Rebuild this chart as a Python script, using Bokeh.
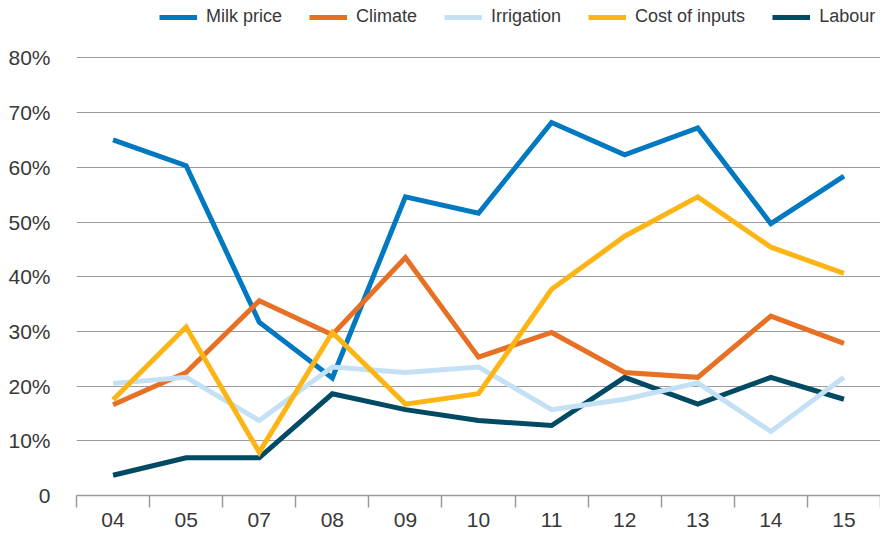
from bokeh.plotting import figure
from bokeh.models import FixedTicker, Legend, LegendItem, Range1d
from bokeh.embed import file_html
from bokeh.resources import INLINE

years = ["04", "05", "07", "08", "09", "10", "11", "12", "13", "14", "15"]
milk_price = [65, 60.3, 31.7, 21.5, 54.6, 51.6, 68.2, 62.3, 67.2, 49.7, 58.4]
climate = [16.6, 22.5, 35.6, 29.4, 43.5, 25.3, 29.8, 22.5, 21.6, 32.8, 27.8]
irrigation = [20.5, 21.6, 13.7, 23.5, 22.5, 23.5, 15.7, 17.6, 20.6, 11.7, 21.6]
cost_of_inputs = [17.5, 30.8, 7.9, 29.8, 16.7, 18.6, 37.7, 47.4, 54.6, 45.4, 40.6]
labour = [3.7, 6.9, 6.9, 18.6, 15.7, 13.7, 12.8, 21.6, 16.7, 21.6, 17.6]
y_ticks = [0, 10, 20, 30, 40, 50, 60, 70, 80]

series_names = ["Milk price", "Climate", "Irrigation", "Cost of inputs", "Labour"]
series_values = [milk_price, climate, irrigation, cost_of_inputs, labour]
colors = ["#0079C1", "#E87024", "#C3E0F5", "#FDB515", "#004A63"]
draw_order = [4, 0, 1, 2, 3]

FONT = "Liberation Sans"
TXT = "#383838"

xs = [i + 0.5 for i in range(len(years))]

# frame spans full height above the axis; top of y range leaves room for the legend
p = figure(width=880, height=529, output_backend="svg", toolbar_location=None,
           x_range=Range1d(0, len(years)), y_range=Range1d(0, 90.5),
           min_border_left=76, min_border_right=0, min_border_top=0, min_border_bottom=33)
p.outline_line_color = None
p.background_fill_color = "white"
p.border_fill_color = "white"

renderers = {}
for idx in draw_order:
    r = p.line(xs, series_values[idx], line_color=colors[idx], line_width=5,
               line_join="miter", line_cap="butt")
    renderers[idx] = r

p.xgrid.grid_line_color = None
p.ygrid.grid_line_color = "#9a9a9a"
p.ygrid.grid_line_width = 1.2
p.ygrid.ticker = FixedTicker(ticks=y_ticks)

xa = p.xaxis[0]
xa.ticker = FixedTicker(ticks=xs, minor_ticks=list(range(len(years) + 1)))
xa.major_label_overrides = {x: y for x, y in zip(xs, years)}
xa.major_tick_out = 0
xa.major_tick_in = 0
xa.minor_tick_out = 12
xa.minor_tick_in = 0
xa.minor_tick_line_color = "#9a9a9a"
xa.minor_tick_line_width = 1.5
xa.axis_line_color = "#9a9a9a"
xa.axis_line_width = 1.5
xa.major_label_standoff = 5
xa.major_label_text_font = FONT
xa.major_label_text_font_size = "21px"
xa.major_label_text_color = TXT

ya = p.yaxis[0]
ya.ticker = FixedTicker(ticks=y_ticks)
ya.major_label_overrides = {t: ("0" if t == 0 else f"{t}%") for t in y_ticks}
ya.axis_line_color = None
ya.major_tick_out = 0
ya.major_tick_in = 0
ya.major_tick_line_color = None
ya.minor_tick_line_color = None
ya.major_label_standoff = 26
ya.major_label_text_font = FONT
ya.major_label_text_font_size = "21px"
ya.major_label_text_color = TXT

items = [LegendItem(label=series_names[i], renderers=[renderers[i]]) for i in range(len(series_names))]
legend = Legend(items=items, orientation="horizontal", location=(83, 468),
                label_text_font=FONT, label_text_font_size="18px", label_text_color=TXT,
                glyph_width=38, glyph_height=16, label_height=16, label_standoff=9,
                spacing=27, padding=0, margin=0, border_line_color=None,
                background_fill_alpha=0)
p.add_layout(legend, "center")

html = file_html(p, INLINE)
open("out.html", "w").write(html)
